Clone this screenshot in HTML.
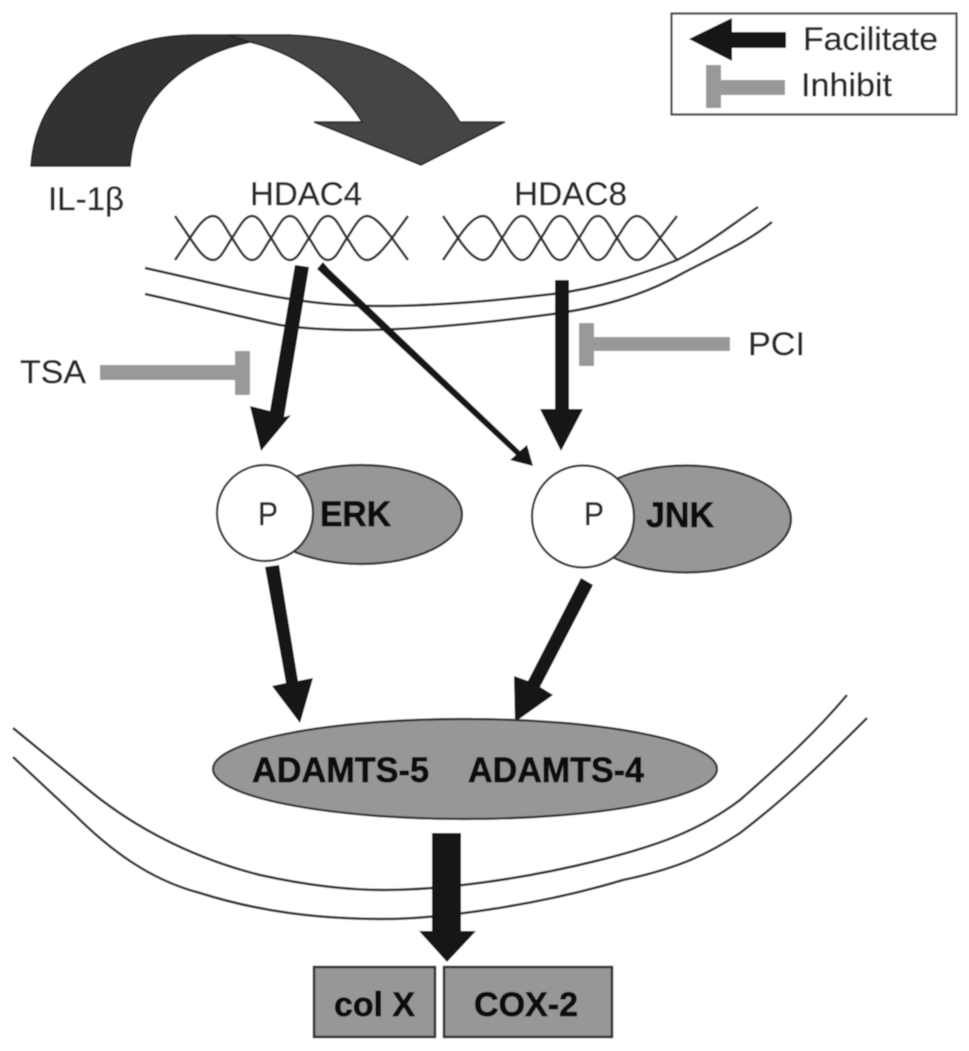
<!DOCTYPE html>
<html>
<head>
<meta charset="utf-8">
<style>
html,body{margin:0;padding:0;background:#fff}
svg{display:block}
text{font-family:"Liberation Sans",sans-serif;fill:#2a2a2a;stroke:#2a2a2a;stroke-width:0.4}
text.b{font-weight:bold;fill:#111;stroke:#111;stroke-width:0.7}
</style>
</head>
<body>
<svg width="969" height="1051" viewBox="0 0 969 1051" xmlns="http://www.w3.org/2000/svg">
<defs><filter id="s" x="0" y="0" width="100%" height="100%"><feGaussianBlur stdDeviation="0.55"/></filter></defs>
<g filter="url(#s)">
<rect width="969" height="1051" fill="#fff"/>
<!-- curved arrow -->
<path d="M31,166 C36,85 110,35 195,35 L240,35 L250,42 C190,55 135,95 130,166 Z" fill="#333" stroke="#222" stroke-width="1.5"/>
<path d="M228,35 L290,35 C370,38 430,70 460,122 L505,122 L421,165 L314,122 L362,122 C340,85 300,55 250,42 Z" fill="#444" stroke="#222" stroke-width="1.5"/>
<!-- legend -->
<rect x="671.5" y="13.5" width="285" height="101" fill="#fff" stroke="#444" stroke-width="2.2"/>
<path d="M689,39 L732,18 L732,32 L786,32 L786,48 L732,48 L732,61 Z" fill="#151515"/>
<rect x="706" y="65" width="15" height="43" fill="#999"/><rect x="721" y="80" width="64" height="15" fill="#999"/>
<text x="803" y="50" font-size="32" textLength="135" lengthAdjust="spacingAndGlyphs">Facilitate</text>
<text x="801" y="96" font-size="32" textLength="91" lengthAdjust="spacingAndGlyphs">Inhibit</text>
<!-- labels -->
<text x="48" y="210" font-size="32" textLength="76" lengthAdjust="spacingAndGlyphs">IL-1β</text>
<text x="250" y="205" font-size="32" textLength="112" lengthAdjust="spacingAndGlyphs">HDAC4</text>
<text x="514" y="205" font-size="32" textLength="113" lengthAdjust="spacingAndGlyphs">HDAC8</text>
<text x="20" y="383" font-size="32" textLength="66" lengthAdjust="spacingAndGlyphs">TSA</text>
<text x="748" y="355" font-size="32" textLength="57" lengthAdjust="spacingAndGlyphs">PCI</text>
<!-- DNA -->
<g fill="none" stroke="#333" stroke-width="2.5">
<path d="M175,216 L190,238 C198,250 205,260 213,260 C221,260 225,248 232,238 C239,228 244,216 252,216 C260,216 264,228 271,238 C278,248 282,260 290,260 C298,260 302,248 309,238 C316,228 320,216 328,216 C336,216 340,228 347,238 C354,248 359,260 367,260 C375,260 385,247 392,238 L408,216"/>
<path d="M175,260 L190,238 C198,226 205,216 213,216 C221,216 225,228 232,238 C239,248 244,260 252,260 C260,260 264,248 271,238 C278,228 282,216 290,216 C298,216 302,228 309,238 C316,248 320,260 328,260 C336,260 340,248 347,238 C354,228 359,216 367,216 C375,216 385,229 392,238 L408,260"/>
<path d="M443,216 L458,238 C466,250 475,260 483,260 C491,260 495,248 502,238 C509,228 514,216 522,216 C530,216 534,228 541,238 C548,248 552,260 560,260 C568,260 572,248 579,238 C586,228 590,216 598,216 C606,216 610,228 617,238 C624,248 629,260 637,260 C645,260 653,247 660,238 L677,216"/>
<path d="M443,260 L458,238 C466,226 475,216 483,216 C491,216 495,228 502,238 C509,248 514,260 522,260 C530,260 534,248 541,238 C548,228 552,216 560,216 C568,216 572,228 579,238 C586,248 590,260 598,260 C606,260 610,248 617,238 C624,228 629,216 637,216 C645,216 653,229 660,238 L677,260"/>
<!-- upper membrane -->
<path d="M145,268 C200,280 250,293 290,299 C320,304 350,306 380,306 C440,306 500,300 553,294 C600,288 640,275 677,260 C705,246 730,226 758,207"/>
<path d="M145,294 C200,306 240,317 280,325 C305,329 330,330 360,330 C420,330 500,321 553,314 C610,306 650,292 683,273 C715,256 745,244 772,222"/>
<!-- lower membrane -->
<path d="M13,728 L90,791 C140,832 200,860 260,875 C310,886 350,890 383,890 C440,890 520,880 600,860 C660,845 700,830 740,800 C780,765 815,733 847,695"/>
<path d="M13,757 L75,815 C110,850 150,880 200,893 C260,912 320,919 383,919 C440,919 540,905 623,880 C680,868 710,853 740,833 C790,795 830,755 867,718"/>
</g>
<!-- big arrows -->
<g fill="#151515">
<path d="M295,265 L309,267 L284,417 L291,415 L261,451 L250,406 L270,411 Z" />
<path d="M555,280 L569,280 L569,409 L583,409 L561,451 L540,409 L555,409 Z"/>
<path d="M323,262 L329,269 L520,451 L527,445 L533,466 L510,460 L516,455 L317,269 Z"/>
<path d="M265,567 L279,565 L298,681 L313,678 L300,723 L272,686 L286,683 Z"/>
<path d="M581,578 L593,585 L540,687 L553,695 L515,722 L514,676 L528,681 Z"/>
<path d="M432,833 L461,833 L461,931 L476,931 L447,962 L419,931 L432,931 Z"/>
</g>
<!-- inhibitors -->
<g fill="#999">
<rect x="100" y="365" width="135" height="15"/><rect x="235" y="351" width="15" height="44"/>
<rect x="594" y="337" width="136" height="14"/><rect x="579" y="323" width="15" height="43"/>
</g>
<!-- ERK -->
<ellipse cx="361" cy="514.5" rx="101" ry="49.5" fill="#979797" stroke="#333" stroke-width="2.2"/>
<circle cx="265" cy="513" r="48" fill="#fff" stroke="#333" stroke-width="2.2"/>
<text x="258" y="525" font-size="32" textLength="20" lengthAdjust="spacingAndGlyphs">P</text>
<text class="b" x="320" y="526" font-size="35" textLength="71" lengthAdjust="spacingAndGlyphs">ERK</text>
<!-- JNK -->
<ellipse cx="686" cy="519" rx="105" ry="53.5" fill="#979797" stroke="#333" stroke-width="2.2"/>
<circle cx="583" cy="516.5" r="51" fill="#fff" stroke="#333" stroke-width="2.2"/>
<text x="584" y="525" font-size="32" textLength="20" lengthAdjust="spacingAndGlyphs">P</text>
<text class="b" x="646" y="527" font-size="35" textLength="68" lengthAdjust="spacingAndGlyphs">JNK</text>
<!-- ADAMTS -->
<ellipse cx="465" cy="769" rx="252" ry="50" fill="#979797" stroke="#333" stroke-width="2.2"/>
<text class="b" x="252" y="782" font-size="35" textLength="177" lengthAdjust="spacingAndGlyphs">ADAMTS-5</text>
<text class="b" x="468" y="782" font-size="35" textLength="176" lengthAdjust="spacingAndGlyphs">ADAMTS-4</text>
<!-- boxes -->
<rect x="314" y="967" width="121" height="70" fill="#979797" stroke="#333" stroke-width="2.5"/>
<rect x="444" y="967" width="168" height="70" fill="#979797" stroke="#333" stroke-width="2.5"/>
<text class="b" x="334" y="1016" font-size="34" textLength="81" lengthAdjust="spacingAndGlyphs">col X</text>
<text class="b" x="474" y="1016" font-size="34" textLength="104" lengthAdjust="spacingAndGlyphs">COX-2</text>
</g>
</svg>
</body>
</html>
